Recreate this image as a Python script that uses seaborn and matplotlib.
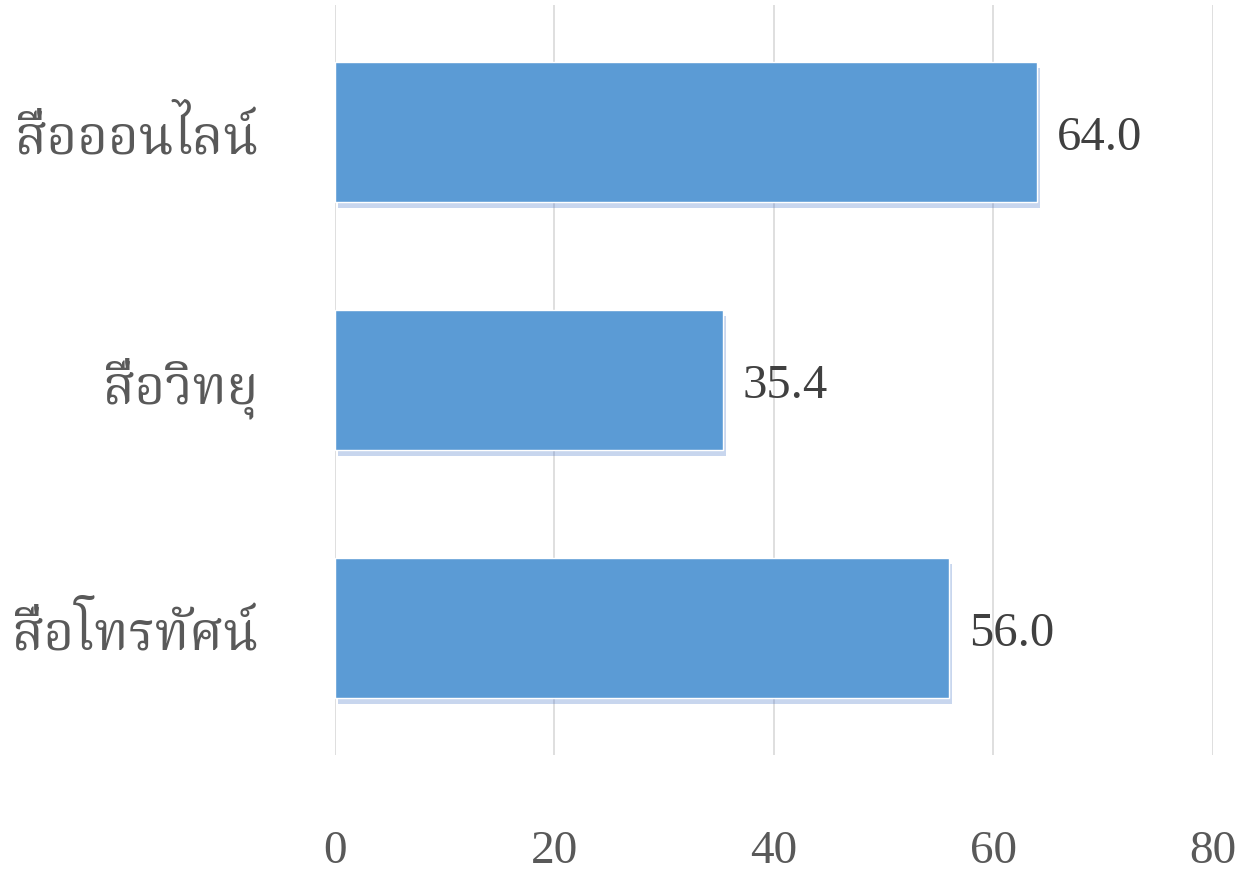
import matplotlib
matplotlib.use("Agg")
import matplotlib.pyplot as plt
import matplotlib.patheffects as pe
import seaborn as sns
import pandas as pd

# data
categories = ["สื่อออนไลน์", "สื่อวิทยุ", "สื่อโทรทัศน์"]
values = [64.0, 35.4, 56.0]
xticks = [0, 20, 40, 60, 80]

sns.set_style("white")
plt.rcParams['font.family'] = ['Liberation Serif', 'Noto Serif Thai', 'DejaVu Sans']

df = pd.DataFrame({"cat": categories, "val": values})

fig = plt.figure(figsize=(12.45, 8.77), dpi=100)
ax = fig.add_axes([0.269, 0.139, 0.705, 0.855])

sns.barplot(data=df, x="val", y="cat", orient="h", color="#5B9BD5",
            saturation=1, width=0.565, ax=ax, zorder=3)

# soft shadow under the bars
for p in ax.patches:
    p.set_path_effects([pe.SimplePatchShadow(offset=(2, -4), shadow_rgbFace="#4a78c8", alpha=0.3),
                        pe.Normal()])

for i, v in enumerate(values):
    ax.annotate(f"{v:.1f}", (v, i), xytext=(14, -4), textcoords="offset points",
                va="center", ha="left", fontsize=35, color="#404040",
                family=['Liberation Serif'])

ax.set_xlim(0, 80)
ax.set_ylim(2.512, -0.512)
ax.set_xticks(xticks)
ax.set_xticklabels([str(t) for t in xticks], family=['Liberation Serif'])
ax.set_yticks(range(len(categories)))
ax.set_yticklabels(categories, family=['Noto Serif Thai'])
ax.grid(True, axis="x", color="#D9D9D9", linewidth=1.2, zorder=0)
for s in ax.spines.values():
    s.set_visible(False)
ax.tick_params(axis="x", length=0, pad=54, labelsize=34, labelcolor="#595959")
ax.tick_params(axis="y", length=0, pad=55, labelsize=38, labelcolor="#595959")
ax.set_xlabel("")
ax.set_ylabel("")

fig.savefig("out.png", dpi=100)
